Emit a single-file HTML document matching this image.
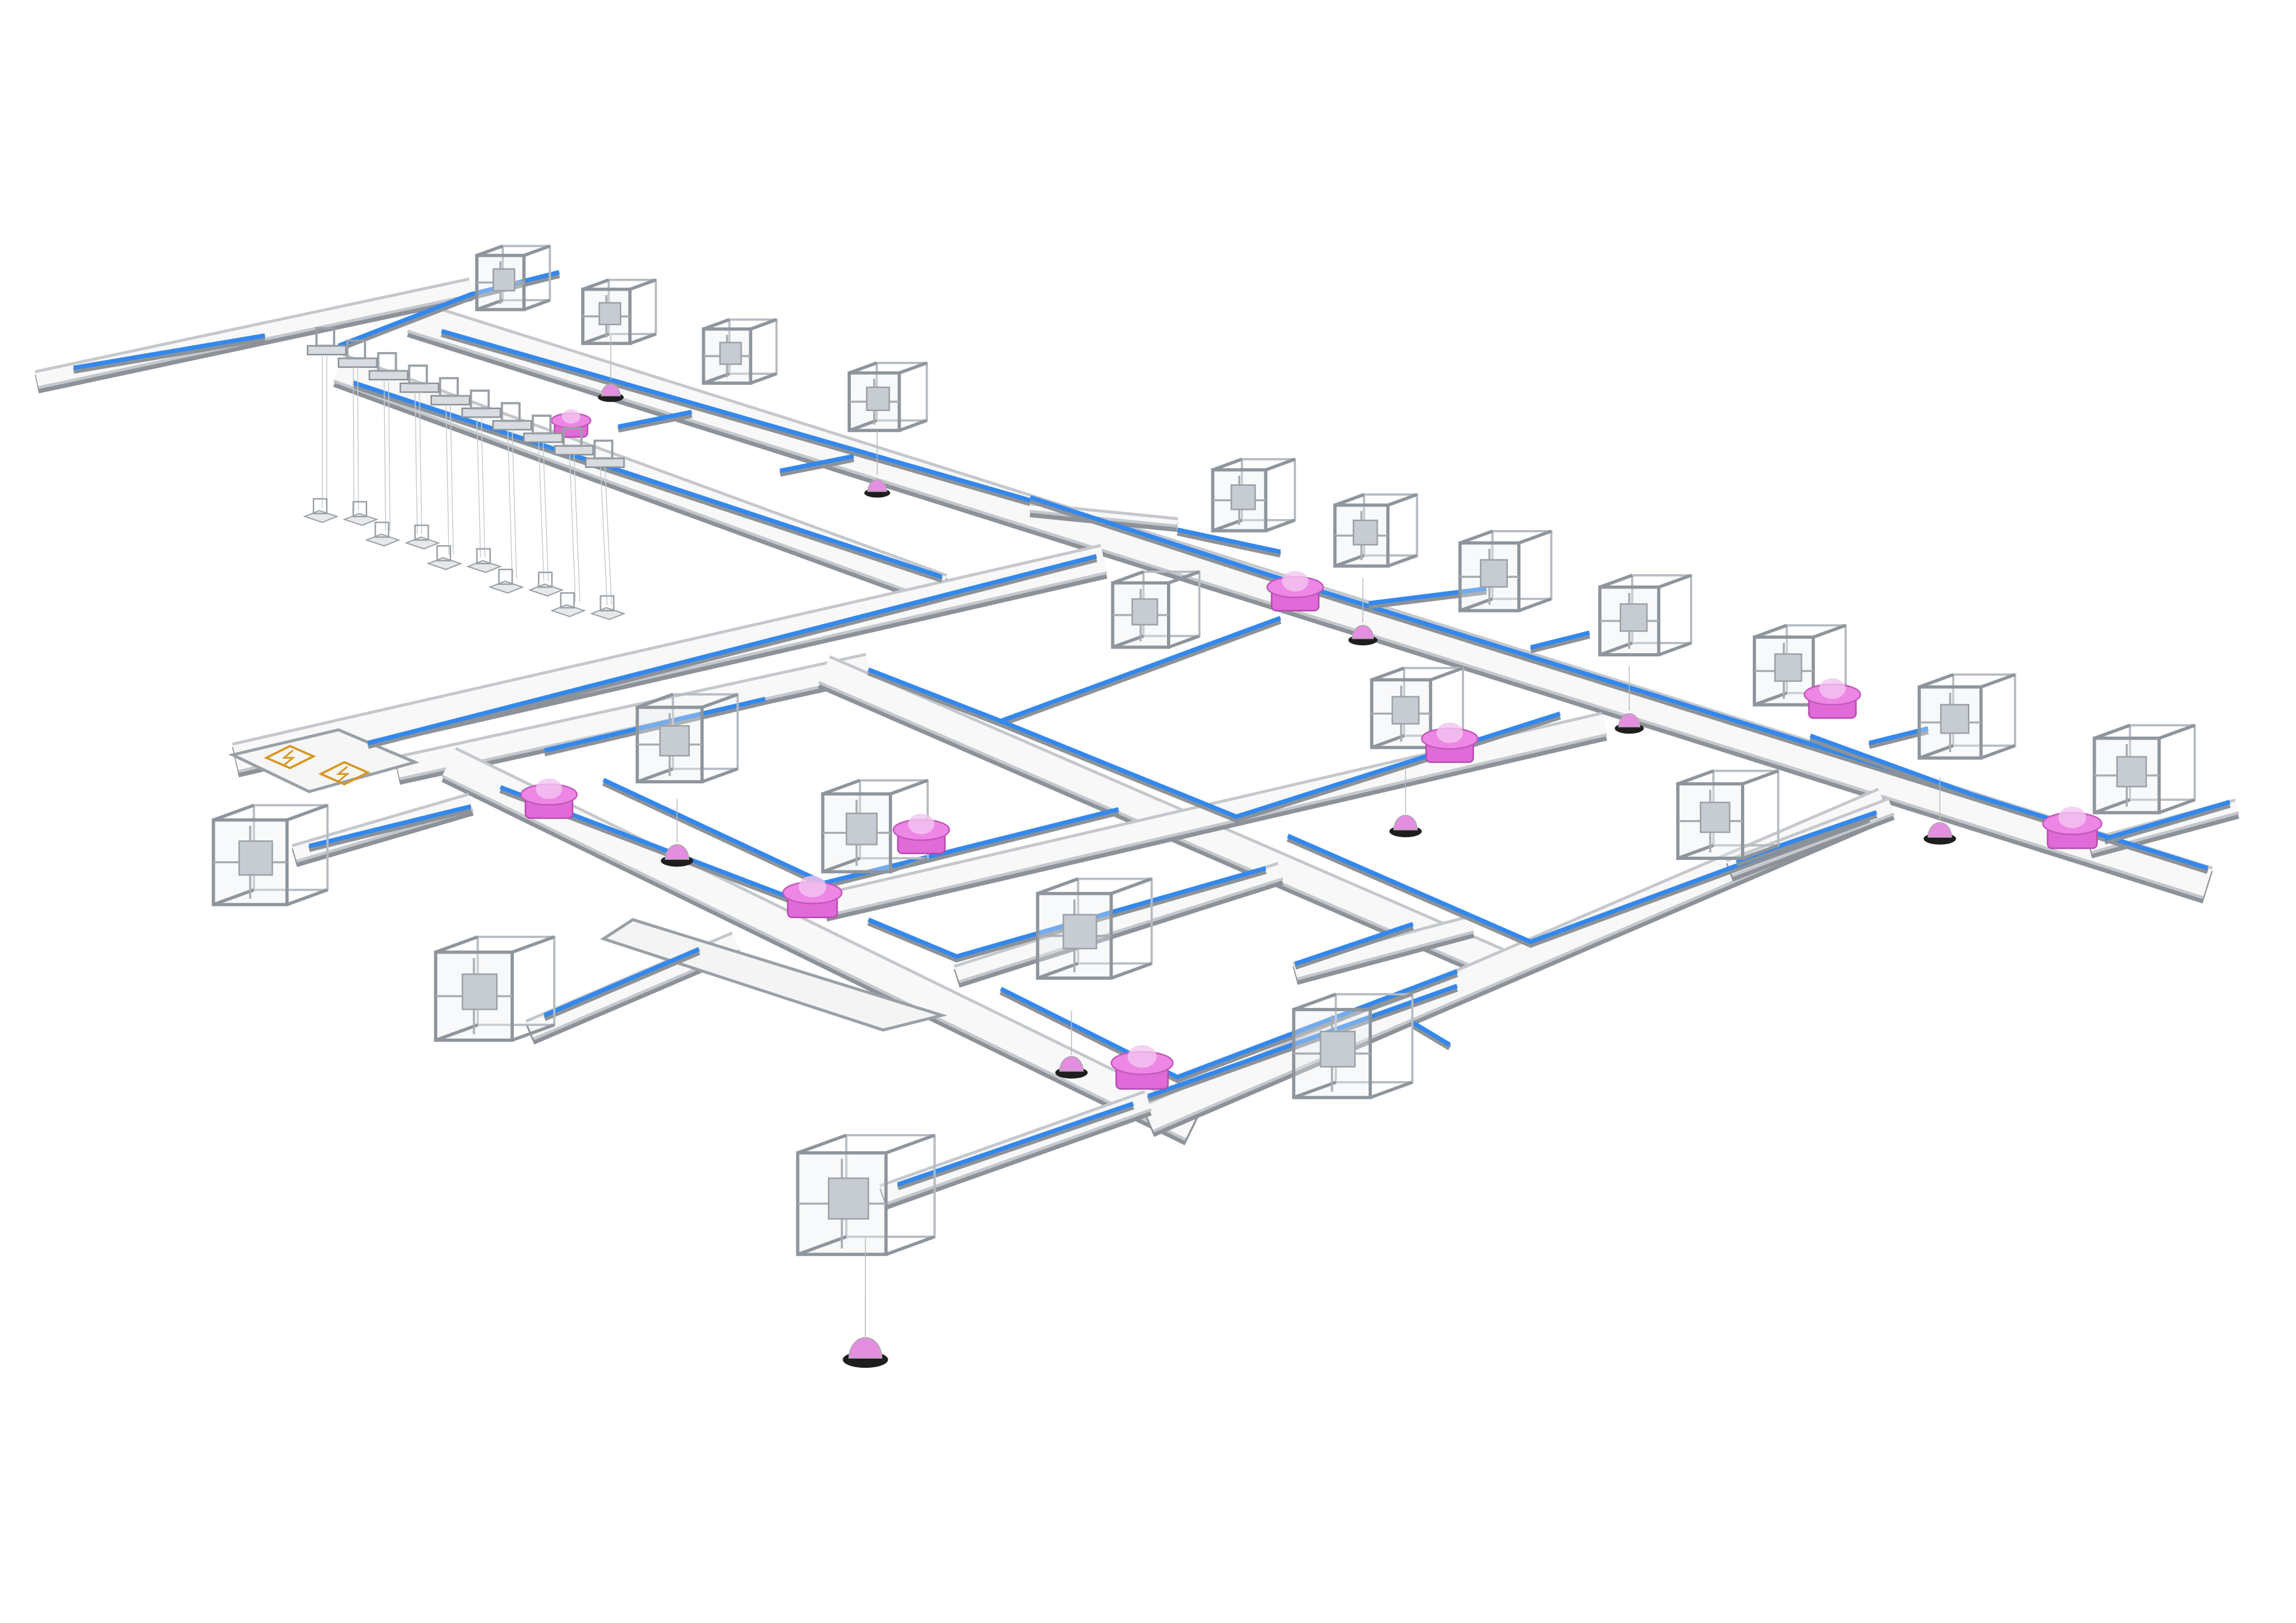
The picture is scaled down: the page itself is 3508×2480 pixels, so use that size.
<!DOCTYPE html>
<html><head><meta charset="utf-8"><style>
html,body{margin:0;padding:0;background:#fff}
svg{display:block}
</style></head><body>
<svg id="s" xmlns="http://www.w3.org/2000/svg" width="3508" height="2480" viewBox="0 0 1560 1103" preserveAspectRatio="none">
<rect width="1560" height="1103" fill="#fff"/>
<g id="roads"></g><g id="blue"></g><g id="objs"></g>
</svg>
<script>
var NS="http://www.w3.org/2000/svg";
function el(p,t,a){var e=document.createElementNS(NS,t);for(var k in a)e.setAttribute(k,a[k]);p.appendChild(e);return e;}
var R=document.getElementById('roads'),B=document.getElementById('blue'),O=document.getElementById('objs');
function road(pts,w){var d="M"+pts.map(function(p){return p.join(",")}).join(" L");
 el(R,'path',{d:d,transform:'translate(0,3)',stroke:'#8c9298','stroke-width':w+1,fill:'none','stroke-linejoin':'miter'});
 el(R,'path',{d:d,stroke:'#c4c8cc','stroke-width':w+1,fill:'none','stroke-linejoin':'miter'});
 el(R,'path',{d:d,stroke:'#f8f8f8','stroke-width':w-3,fill:'none','stroke-linejoin':'miter'});}
function blue(pts){var d="M"+pts.map(function(p){return p.join(",")}).join(" L");
 el(B,'path',{d:d,transform:'translate(0,2)',stroke:'#8c9298','stroke-width':4,fill:'none'});
 el(B,'path',{d:d,stroke:'#3388ee','stroke-width':3,fill:'none'});}
// main roads
road([[280,215],[1500,600]],22);
road([[230,250],[640,400]],20);
road([[160,515],[750,380]],20);
road([[270,522],[590,452]],16);
road([[305,518],[810,765]],22);
road([[560,455],[1020,655]],20);
road([[780,760],[1280,545]],20);
road([[560,615],[1090,492]],16);
road([[25,258],[320,195]],12);
road([[200,580],[320,545]],12);
road([[360,700],[500,640]],14);
road([[600,812],[780,748]],14);
road([[650,662],[870,592]],12);
road([[880,660],[1000,628]],12);
road([[1175,590],[1285,548]],12);
road([[1420,575],[1520,548]],10);
road([[700,345],[800,355]],6);
// left plate
el(R,'polygon',{points:'430,625 640,690 600,700 410,638',fill:'#f4f4f4',stroke:'#9aa0a6','stroke-width':2});
// charging pad
el(R,'polygon',{points:'158,513 230,496 282,518 210,538',fill:'#f6f6f6',stroke:'#9aa0a6','stroke-width':2});
[[195,513],[232,524]].forEach(function(c){
 el(O,'polygon',{points:(c[0]-14)+','+(c[1]+2)+' '+(c[0]+2)+','+(c[1]-6)+' '+(c[0]+18)+','+(c[1]+1)+' '+(c[0]+2)+','+(c[1]+9),fill:'none',stroke:'#d9951f','stroke-width':1.5});
 el(O,'path',{d:'M'+(c[0]+4)+','+(c[1]-3)+' l-6,5 h6 l-6,5',fill:'none',stroke:'#d9951f','stroke-width':1.2});});
// blue lines
blue([[50,250],[180,228]]);blue([[230,235],[320,200],[380,185]]);
blue([[300,225],[700,340]]);blue([[700,338],[860,390],[1500,590]]);
blue([[240,260],[640,392]]);blue([[250,505],[745,378]]);
blue([[370,510],[520,475]]);blue([[340,535],[550,615]]);
blue([[410,530],[560,600],[760,550]]);blue([[590,455],[680,490],[870,420]]);
blue([[680,490],[840,555],[1060,485]]);blue([[875,568],[1040,640],[1270,555]]);
blue([[590,625],[650,650],[860,590]]);blue([[680,672],[800,732],[990,660]]);
blue([[780,745],[990,670]]);blue([[210,575],[320,548]]);blue([[370,690],[475,645]]);
blue([[610,805],[770,750]]);blue([[880,655],[960,628]]);blue([[1180,585],[1275,552]]);
blue([[1430,570],[1515,545]]);blue([[800,360],[870,375]]);blue([[930,410],[1010,400]]);
blue([[1040,440],[1080,430]]);blue([[1270,505],[1310,495]]);blue([[1230,500],[1340,540]]);
blue([[530,320],[580,310]]);blue([[420,290],[470,280]]);blue([[960,695],[985,710]]);
// cubes
function cube(x,y,s){var w=s||30,h=w*1.15,dx=w*0.55,dy=-w*0.2;var g=el(O,'g',{stroke:'#8e959c','stroke-width':2.2,fill:'none'});
 el(g,'rect',{x:x-w/2+dx,y:y-h/2+dy,width:w,height:h,stroke:'#b5bbc1','stroke-width':1.5});
 el(g,'rect',{x:x-w/2,y:y-h/2,width:w,height:h,fill:'rgba(235,238,242,0.35)'});
 el(g,'path',{d:'M'+(x-w/2)+','+(y-h/2)+' l'+dx+','+dy+' M'+(x+w/2)+','+(y-h/2)+' l'+dx+','+dy+' M'+(x+w/2)+','+(y+h/2)+' l'+dx+','+dy+' M'+(x-w/2)+','+(y+h/2)+' l'+dx+','+dy});
 el(g,'path',{d:'M'+(x-w/2)+','+(y)+' h'+w+' M'+(x)+','+(y-h/2+4)+' v'+(h-8),stroke:'#a7adb3','stroke-width':1.4});
 el(g,'rect',{x:x-w*0.15,y:y-h*0.25,width:w*0.45,height:h*0.4,fill:'#c7ccd2',stroke:'#9aa0a6','stroke-width':1});}
[[340,192,32],[412,215,32],[494,242,32],[594,273,34],[842,340,36],[925,364,36],[1012,392,40],[1107,422,40],[1212,456,40],[1325,491,42],[1445,527,44],
[775,418,38],[952,485,40],[455,506,44],[582,566,46],[1162,558,44],[730,636,50],[905,716,52],[170,586,50],[322,677,52],[572,818,60]].forEach(function(c){cube(c[0],c[1],c[2]);});
// robots
function robot(x,y,s){var k=s||1;el(O,'rect',{x:x-16*k,y:y-6*k,width:32*k,height:16*k,rx:3,fill:'#e06ad8',stroke:'#b54aae','stroke-width':1});
 el(O,'ellipse',{cx:x,cy:y-6*k,rx:19*k,ry:7*k,fill:'#ee86e6',stroke:'#c258ba','stroke-width':1});
 el(O,'ellipse',{cx:x,cy:y-10*k,rx:9*k,ry:7*k,fill:'#f3c6f0',opacity:0.8});}
[[388,290,0.7],[880,405,1],[985,508,1],[1245,478,1],[1408,566,1.05],[373,546,1],[552,613,1.05],[626,570,1],[776,729,1.1]].forEach(function(r){robot(r[0],r[1],r[2]);});
// hanging domes
function dome(x,y,k){el(O,'line',{x1:x,y1:y-40,x2:x,y2:y-10,stroke:'#bbb','stroke-width':0.6});
 el(O,'ellipse',{cx:x,cy:y+2,rx:11*k,ry:4*k,fill:'#1e1e1e'});
 el(O,'path',{d:'M'+(x-8*k)+','+(y+1)+' a'+(8*k)+','+(10*k)+' 0 0 1 '+(16*k)+',0 z',fill:'#e48ee0',stroke:'#aaa','stroke-width':0.6});}
[[415,268,0.8],[596,333,0.8],[926,433,0.9],[1107,493,0.9],[955,563,1],[460,583,1],[1318,568,1],[728,727,1],[588,922,1.4]].forEach(function(d){dome(d[0],d[1],d[2]);});
el(O,'line',{x1:588,y1:840,x2:588,y2:910,stroke:'#bbb','stroke-width':0.6});
// picking stations on upper-left
for(var i=0;i<10;i++){var x=215+i*21,y=235+i*8.5;
 el(O,'rect',{x:x-6,y:y,width:26,height:6,fill:'#d8dce0',stroke:'#8a9096','stroke-width':1});
 el(O,'rect',{x:x,y:y-12,width:12,height:12,fill:'none',stroke:'#9aa0a6','stroke-width':1.5});
 var fx=x+2+ (i%2?6:0), fy=345+i*8+(i%2?-6:0);
 el(O,'line',{x1:x+4,y1:y+6,x2:x+4+i*0.5,y2:fy,stroke:'#c8ccd0','stroke-width':0.6});
 el(O,'line',{x1:x+7,y1:y+6,x2:x+7+i*0.5,y2:fy,stroke:'#c8ccd0','stroke-width':0.6});
 el(O,'polygon',{points:(fx-10)+','+(fy+6)+' '+(fx)+','+(fy+2)+' '+(fx+12)+','+(fy+6)+' '+(fx+2)+','+(fy+10),fill:'#e6e8ea',stroke:'#9aa0a6','stroke-width':0.8});
 el(O,'rect',{x:fx-4,y:fy-6,width:9,height:10,fill:'none',stroke:'#9aa0a6','stroke-width':1});}
</script>
</body></html>
